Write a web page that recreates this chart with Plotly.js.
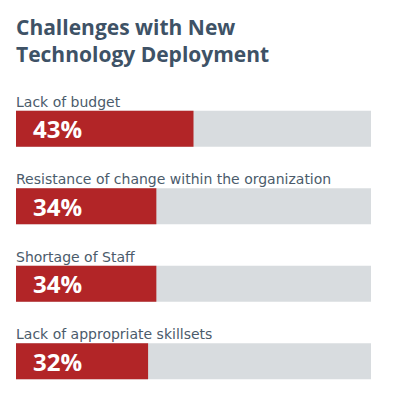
<!DOCTYPE html>
<html>
<head>
<meta charset="utf-8">
<script src="https://cdn.plot.ly/plotly-3.0.1.min.js"></script>
<style>html,body{margin:0;padding:0;background:#fff;}#chart{width:400px;height:400px;}</style>
</head>
<body>
<div id="chart"></div>
<script>
const categories = [
  "Lack of budget",
  "Resistance of change within the organization",
  "Shortage of Staff",
  "Lack of appropriate skillsets"
];
const values = [43, 34, 34, 32];
const trackMax = [86, 86, 86, 86];
const valueLabels = ["43%", "34%", "34%", "32%"];
const chartTitle = "Challenges with New<br>Technology Deployment";

const RED = "#b22527";
const GRAY = "#d8dcdf";
const TITLE_COLOR = "#3e5266";
const LABEL_COLOR = "#4b5b6b";
const FONT = "Open Sans, Noto Sans, sans-serif";
const LABEL_FONT = "DejaVu Sans, sans-serif";

const traces = [
  {
    type: "bar", orientation: "h",
    y: categories, x: trackMax,
    marker: {color: GRAY},
    width: 0.466, hoverinfo: "skip"
  },
  {
    type: "bar", orientation: "h",
    y: categories, x: values,
    marker: {color: RED},
    width: 0.466, hoverinfo: "skip"
  }
];

const annotations = [];
categories.forEach((c, i) => {
  annotations.push({
    x: 0, y: c, xref: "x", yref: "y",
    text: c, showarrow: false,
    xanchor: "left", yanchor: "bottom",
    xshift: -2, yshift: 17,
    font: {family: LABEL_FONT, size: 14, color: LABEL_COLOR}
  });
  annotations.push({
    x: 0, y: c, xref: "x", yref: "y",
    text: valueLabels[i], showarrow: false,
    xanchor: "left", yanchor: "middle",
    xshift: 15, yshift: 0,
    font: {family: FONT, size: 24, color: "#ffffff", weight: 700}
  });
});

const layout = {
  width: 400, height: 400,
  margin: {l: 16, r: 29, t: 90, b: 0, pad: 0},
  paper_bgcolor: "#ffffff", plot_bgcolor: "#ffffff",
  barmode: "overlay",
  showlegend: false,
  title: {
    text: chartTitle,
    x: 16/400, xref: "container", xanchor: "left",
    y: 1 - 35/400, yref: "container", yanchor: "top",
    font: {family: FONT, size: 21, color: TITLE_COLOR, weight: 700}
  },
  xaxis: {range: [0, 86], visible: false, fixedrange: true},
  yaxis: {type: "category", categoryorder: "array", categoryarray: categories,
          range: [3.5, -0.5], visible: false, fixedrange: true},
  annotations: annotations
};

Plotly.newPlot("chart", traces, layout, {displayModeBar: false, staticPlot: true});
</script>
</body>
</html>
